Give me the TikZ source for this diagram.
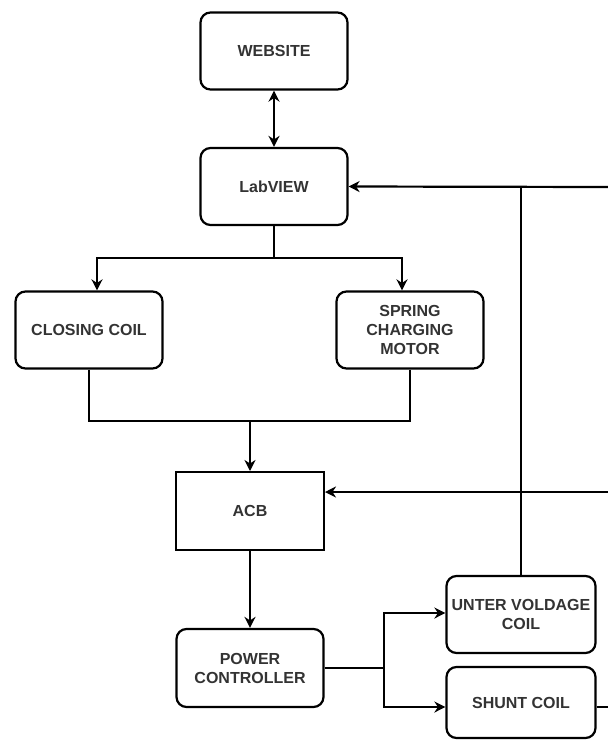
\documentclass[tikz,border=0pt]{standalone}
\usepackage{fontspec}
\setmainfont{Liberation Sans}
\usetikzlibrary{arrows.meta,calc}
\begin{document}
\begin{tikzpicture}[x=1pt,y=-1pt,
  every node/.style={font=\fontsize{16}{19}\selectfont\bfseries, align=center, text=black!80},
  rbox/.style={draw, line width=2.2pt, rounded corners=10pt, minimum width=147pt, minimum height=77pt, inner sep=2pt},
  sbox/.style={draw, line width=2pt, minimum width=148pt, minimum height=78pt, inner sep=2pt},
  conn/.style={line width=2.2pt},
  arr/.style={line width=2.2pt, -{Stealth[length=11pt,width=11pt,inset=3.5pt]}},
  darr/.style={line width=2.2pt, {Stealth[length=11pt,width=11pt,inset=3.5pt]}-{Stealth[length=11pt,width=11pt,inset=3.5pt]}}]
\useasboundingbox (0,0) rectangle (608,740);
\node[rbox] (web) at (274,51) {WEBSITE};
\node[rbox] (lab) at (274,186.5) {LabVIEW};
\node[rbox] (close) at (89,330) {CLOSING COIL};
\node[rbox] (spring) at (410,330) {SPRING\\CHARGING\\MOTOR};
\node[sbox] (acb) at (250,511) {ACB};
\node[rbox, minimum height=78pt] (power) at (250,668) {POWER\\CONTROLLER};
\node[rbox, minimum width=149pt] (unter) at (521,614.5) {UNTER VOLDAGE\\COIL};
\node[rbox, minimum width=149pt, minimum height=71pt] (shunt) at (521,702.5) {SHUNT COIL};

\coordinate (j1) at (274,258);
\coordinate (j2) at (250,421);
\coordinate (j3) at (384,668);
\coordinate (inL) at (608,187);
\coordinate (inA) at (608,492);
\coordinate (outS) at (608,707);

\draw[darr] (web) -- (lab);
\draw[conn] (lab.south) -- (j1);
\draw[arr] (j1) -| ([xshift=8pt]close.north);
\draw[arr] (j1) -| ([xshift=-8pt]spring.north);
\draw[conn] (close.south) |- (j2);
\draw[conn] (spring.south) |- (j2);
\draw[arr] (j2) -- (acb.north);
\draw[arr] (acb.south) -- (power.north);
\draw[conn] (power.east) -- (j3);
\draw[arr] (j3) |- ([yshift=1.5pt]unter.west);
\draw[arr] (j3) |- ([yshift=-4.5pt]shunt.west);
\draw[conn] ([yshift=-4.5pt]shunt.east) -- (outS);
\draw[arr] (inL) -- (lab.east);
\draw[arr] (inA) -- ([yshift=19pt]acb.east);
\draw[conn] (unter.north) -- (unter.north |- inL);
\end{tikzpicture}
\end{document}
